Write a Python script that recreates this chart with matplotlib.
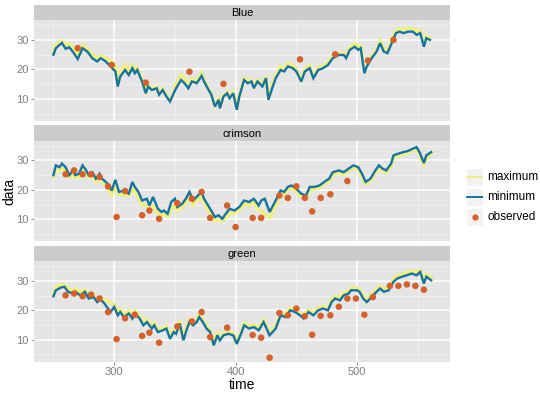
import matplotlib
matplotlib.use('Agg')
import matplotlib.pyplot as plt
from matplotlib.lines import Line2D
from matplotlib.patches import Rectangle

plt.rcParams['font.family'] = ['Liberation Sans', 'DejaVu Sans']

panels = ['Blue', 'crimson', 'green']

# time grids of the two lines, per panel
blue_t = [250, 252, 257, 260, 263, 266, 270, 274, 278, 282, 286, 289, 293, 297, 301, 303, 305, 309, 312, 315,
          317, 319, 323, 326, 328, 331, 335, 337, 340, 343, 346, 349, 351, 355, 358, 361, 364, 368, 372, 374,
          377, 380, 383, 386, 387, 390, 393, 395, 398, 401, 403, 407, 410, 413, 415, 418, 422, 425, 427, 430,
          433, 437, 440, 443, 447, 450, 454, 457, 461, 464, 468, 472, 476, 480, 485, 489, 491, 494, 498, 501,
          503, 506, 508, 512, 516, 519, 522, 525, 529, 532, 535, 538, 542, 546, 549, 552, 555, 557, 560]
blue_min = [25, 27.2, 29, 27, 27.5, 26, 23.5, 27.2, 26, 23.8, 22.7, 23.8, 22.7, 21, 19.3, 14.2, 17.6, 19.8, 18.1, 20.4,
            18.7, 19.8, 15.9, 11.9, 14.2, 13, 13.6, 11.4, 13, 10.8, 9.1, 11.9, 13.6, 16.4, 15.3, 13.6, 15.9, 15.3, 17.8, 15.9,
            13.6, 11.4, 7.4, 9.7, 6.8, 10.8, 11.9, 10.2, 11.9, 6.3, 10.8, 16.4, 15.3, 15.9, 13.6, 15.9, 14.2, 17, 9.7, 13.5,
            17, 19.8, 19.3, 21, 20.4, 19.3, 15.9, 19.3, 20.4, 17, 19.8, 20.4, 21.5, 23.8, 24.9, 24.9, 23.8, 26.6, 27.7, 26.6,
            27.2, 18.7, 21, 23.8, 26, 28.9, 26, 25.5, 29.4, 32.3, 32.8, 32.3, 32.8, 32.8, 31.7, 32.3, 27.7, 30.6, 30]
blue_max = [25.8, 28.3, 29.6, 28.4, 28.7, 27.5, 25, 28.2, 27, 25, 23.5, 24.6, 23.8, 22.8, 21.5, 16, 19, 21.5, 19.5, 21.5,
            19.5, 20.5, 16.5, 12.5, 14.8, 13.5, 14.2, 12, 13.5, 11.2, 9.5, 12.5, 15, 18, 17, 14.5, 16.8, 16, 18.8, 16.5,
            14, 11.8, 7.8, 10, 7.2, 11.2, 12.3, 10.6, 12.3, 6.7, 11.2, 17, 16, 16.6, 14.2, 16.5, 14.8, 17.6, 10.2, 14.5,
            18, 21, 20.5, 22, 21.5, 20, 16.5, 20, 21.3, 17.6, 20.5, 21.2, 22.3, 24.6, 25.5, 25.5, 24.5, 27.5, 28.8, 27.7,
            28, 19.3, 21.6, 24.5, 26.8, 29.8, 26.8, 26.3, 30.5, 33.3, 33.8, 33.5, 34, 33.8, 32.7, 33.2, 28.5, 31.4, 30.6]

crimson_t = [250, 252, 255, 257, 260, 263, 266, 268, 271, 274, 277, 279, 282, 285, 288, 290, 293, 296, 298, 301,
             304, 308, 312, 315, 317, 320, 323, 327, 329, 332, 336, 339, 341, 344, 347, 350, 352, 356, 359, 362,
             365, 369, 372, 374, 379, 383, 386, 389, 391, 395, 399, 403, 407, 411, 415, 419, 421, 424, 428, 433,
             437, 440, 443, 446, 450, 454, 458, 461, 465, 469, 473, 477, 480, 485, 489, 493, 497, 501, 504, 507,
             511, 515, 518, 521, 524, 528, 530, 534, 538, 542, 546, 549, 552, 555, 557, 561]
crimson_min = [25, 28.3, 27.7, 28.9, 27.7, 25, 26.6, 25, 25.5, 28.3, 26.6, 25, 26, 23.8, 25.5, 23.8, 22.7, 21.5, 19.8, 23.4,
               19.3, 19.8, 18.7, 22.7, 21, 19.3, 16.4, 17, 14.7, 17.6, 13.6, 12.5, 13, 11.9, 15.9, 17, 14.2, 15.3, 17, 19.3,
               16.4, 18.1, 19.3, 17, 13.6, 10.8, 11.4, 10.2, 11.4, 13.6, 13, 14.2, 16.4, 15.9, 17, 14.7, 16.4, 17, 12.5, 16.4,
               19.8, 19.3, 21, 21.5, 20.4, 18.7, 18.1, 21, 21, 21.5, 22.7, 23.8, 26, 26.6, 26, 27.2, 28.3, 27.7, 25.5, 22.7,
               23.8, 26.6, 28.3, 27.2, 26.6, 28.9, 31.7, 32.3, 32.8, 33.2, 34, 34.5, 32.3, 29.1, 31.7, 32.8]
crimson_max = [24.5, 26.5, 26.5, 27.3, 26.3, 24.3, 25.2, 24.2, 24.5, 26.5, 25.5, 24.3, 25.2, 22.8, 24.5, 22.8, 21.5, 20, 18.5, 21.5,
               18.2, 18.5, 18, 20.5, 19.5, 17.5, 14.8, 15, 13.2, 14.5, 12, 11.5, 11.8, 11, 13.5, 15.2, 13, 14, 15.5, 17.8,
               15, 16.8, 18.2, 15.5, 12, 9.6, 9.8, 9.4, 10.2, 12, 12, 13.2, 15, 14.8, 15.8, 13, 13, 11.5, 10.6, 14.8,
               18.5, 18.5, 20, 20.5, 19.5, 17.5, 17.2, 20, 20.3, 20.8, 22, 23, 25.2, 25.8, 25.3, 26.4, 27.5, 27, 24.5, 22,
               23, 25.8, 27.6, 26.5, 26, 28, 30.8, 31.6, 32.2, 32.6, 33.4, 33.8, 31.5, 28.5, 30.8, 32.3]

green_t = [250, 252, 256, 259, 262, 266, 268, 272, 276, 279, 283, 286, 289, 292, 294, 297, 300, 303, 305, 308,
           312, 315, 317, 321, 324, 327, 331, 333, 336, 340, 343, 346, 349, 351, 354, 357, 360, 362, 365, 368,
           370, 373, 376, 379, 382, 385, 387, 390, 394, 398, 401, 405, 407, 411, 415, 419, 423, 428, 433, 437,
           441, 445, 449, 453, 456, 460, 464, 468, 472, 476, 479, 482, 486, 489, 493, 495, 500, 502, 505, 508,
           512, 516, 519, 522, 526, 530, 533, 537, 541, 545, 549, 552, 555, 557, 561]
green_min = [24.8, 26.8, 27.7, 28, 26.3, 25.7, 26.3, 25.1, 26.3, 24, 24.5, 22.8, 23.6, 22.3, 21.1, 19.4, 21.1, 18.3, 19.4, 17.7,
             18.9, 17.2, 18.9, 17.2, 14.9, 16, 13.8, 14.9, 12.6, 13.2, 13.8, 10.3, 12.6, 12, 15.5, 9.8, 13.8, 16, 14.9, 16,
             17.7, 16, 13.8, 12.6, 8.1, 11.5, 9.8, 11.5, 12, 11.5, 8.6, 12.6, 14.9, 13.8, 14.3, 13.2, 16, 11.5, 13.8, 18.3,
             17.7, 20, 19.4, 18.3, 17.2, 19.4, 18.3, 20, 20.6, 20, 22.8, 24, 23.4, 25.1, 25.7, 26.8, 26.8, 26.3, 24, 22.8,
             24.5, 26.3, 27.4, 26.3, 26.8, 29.7, 30.8, 31.4, 31.9, 32.5, 31.9, 33, 29.1, 31.4, 30.2]
green_max = [25.6, 27.8, 28.6, 28.8, 27.3, 26.8, 27.3, 26.2, 27, 25.2, 25.5, 24, 24.5, 23.5, 23.3, 22.5, 22, 19.5, 20.3, 18.6,
             19.8, 18, 19.8, 18, 15.8, 16.9, 14.6, 15.6, 13.3, 14, 14.6, 11, 13.3, 12.8, 16.5, 10.5, 14.5, 16.9, 15.6, 16.8,
             18.6, 16.8, 14.5, 13.2, 8.7, 12.2, 10.4, 12.2, 12.8, 12.2, 9.2, 13.3, 15.6, 14.5, 15, 14, 16.8, 12.2, 14.6, 19,
             18.5, 20.8, 20.2, 19, 18, 20.2, 19, 20.8, 21.4, 20.8, 23.6, 24.8, 24.2, 25.9, 26.5, 27.6, 27.6, 27.1, 24.8, 23.6,
             25.3, 27.2, 28.3, 27.2, 27.7, 30.6, 31.7, 32.3, 32.8, 33.4, 32.8, 33.8, 30, 32.2, 31]

# observed points
blue_obs_t = [270, 298, 326, 362, 390, 453, 482, 509, 530]
blue_obs = [27.2, 21.5, 15.5, 19.2, 15.1, 23.4, 25.1, 23, 30]
crimson_obs_t = [260, 267, 274, 281, 288, 295, 302, 309, 323, 329, 337, 352, 364, 372, 379, 393, 400, 414, 421,
                 436, 443, 450, 457, 463, 470, 478, 492]
crimson_obs = [25.3, 26.6, 25.3, 25.3, 24.4, 21.2, 10.8, 19.6, 11.4, 13, 10.2, 15.5, 17, 19.3, 10.5, 14.7, 7.4, 10.5, 10.5,
               18.1, 17.3, 21.2, 17.3, 12.7, 17.3, 18.5, 23]
green_obs_t = [260, 267, 274, 281, 288, 295, 302, 309, 317, 323, 329, 337, 352, 364, 372, 379, 393, 414, 421, 428,
               436, 443, 450, 457, 463, 470, 478, 485, 492, 499, 506, 513, 527, 534, 541, 548, 555]
green_obs = [25.1, 25.7, 24.8, 25.3, 24, 19.4, 10.2, 17.3, 18.5, 11.3, 12.4, 9, 14.5, 16.2, 19.4, 10.9, 14.1, 11.6, 10.7, 3.9,
             19.1, 18.3, 20.6, 18, 11.7, 18.1, 18.3, 21.2, 24, 24, 18.5, 24.5, 28.3, 28.3, 28.8, 28.3, 27]

series_names = ['maximum', 'minimum', 'observed']

lines_t = [blue_t, crimson_t, green_t]
lines_min = [blue_min, crimson_min, green_min]
lines_max = [blue_max, crimson_max, green_max]
obs_t = [blue_obs_t, crimson_obs_t, green_obs_t]
obs_v = [blue_obs, crimson_obs, green_obs]

YEL = '#f0f07c'
BLU = '#16739f'
ORA = '#d4602c'
GRID_MINOR = '#f2f2f2'

fig = plt.figure(figsize=(5.4, 3.95), dpi=100)
W, H = 540.0, 395.0
left, right = 34 / W, 450 / W
plot_tops = [20, 140.5, 261]
plot_bots = [120.7, 241.2, 361.5]

for i, name in enumerate(panels):
    top, bot = plot_tops[i], plot_bots[i]
    ax = fig.add_axes([left, 1 - bot / H, right - left, (bot - top) / H])
    sx = fig.add_axes([left, 1 - top / H, right - left, 15.5 / H])
    sx.set_facecolor('#cccccc')
    sx.set_xticks([])
    sx.set_yticks([])
    for s in sx.spines.values():
        s.set_visible(False)
    sx.text(0.5, 0.45, name, ha='center', va='center', fontsize=8, transform=sx.transAxes)

    ax.set_facecolor('#e5e5e5')
    for s in ax.spines.values():
        s.set_visible(False)
    ax.set_xlim(234, 576.5)
    ax.set_ylim(2.6, 36.75)
    for v in [250, 350, 450, 550]:
        ax.axvline(v, color=GRID_MINOR, lw=0.5, zorder=0)
    for v in [5, 15, 25, 35]:
        ax.axhline(v, color=GRID_MINOR, lw=0.5, zorder=0)
    for v in [300, 400, 500]:
        ax.axvline(v, color='white', lw=1.1, zorder=0)
    for v in [10, 20, 30]:
        ax.axhline(v, color='white', lw=1.1, zorder=0)

    ax.plot(lines_t[i], lines_max[i], color=YEL, lw=2.4, zorder=2, solid_joinstyle='miter')
    ax.plot(lines_t[i], lines_min[i], color=BLU, lw=1.7, zorder=3, solid_joinstyle='miter')
    ax.scatter(obs_t[i], obs_v[i], s=22, color=ORA, edgecolors='none', zorder=4)

    ax.set_yticks([10, 20, 30])
    ax.set_xticks([300, 400, 500])
    ax.tick_params(colors='#7f7f7f', labelsize=8, length=2.5, width=0.6, pad=1.5)
    if i < 2:
        ax.tick_params(axis='x', length=0, labelbottom=False)
    else:
        ax.set_xlabel('time', fontsize=10, labelpad=1)

fig.text(0.018, 1 - 191 / H, 'data', rotation=90, ha='center', va='center', fontsize=10)

# legend drawn by hand: grey key boxes, then the glyphs and labels
key_rows = [177, 197, 217]
for j, lab in enumerate(series_names):
    yc = key_rows[j]
    fig.patches.append(Rectangle((466 / W, 1 - (yc + 9) / H), 17 / W, 18 / H, transform=fig.transFigure,
                                 facecolor='#f2f2f2', edgecolor='white', lw=0.8))
    if j == 2:
        fig.lines.append(Line2D([474.5 / W], [1 - yc / H], transform=fig.transFigure, color=ORA,
                                marker='o', ls='none', markersize=4.5, markeredgewidth=0))
    else:
        fig.lines.append(Line2D([467 / W, 482 / W], [1 - yc / H, 1 - yc / H], transform=fig.transFigure,
                                color=[YEL, BLU][j], lw=1.4))
    fig.text(487 / W, 1 - yc / H, lab, ha='left', va='center', fontsize=8.5)

fig.savefig('out.png', dpi=100)
